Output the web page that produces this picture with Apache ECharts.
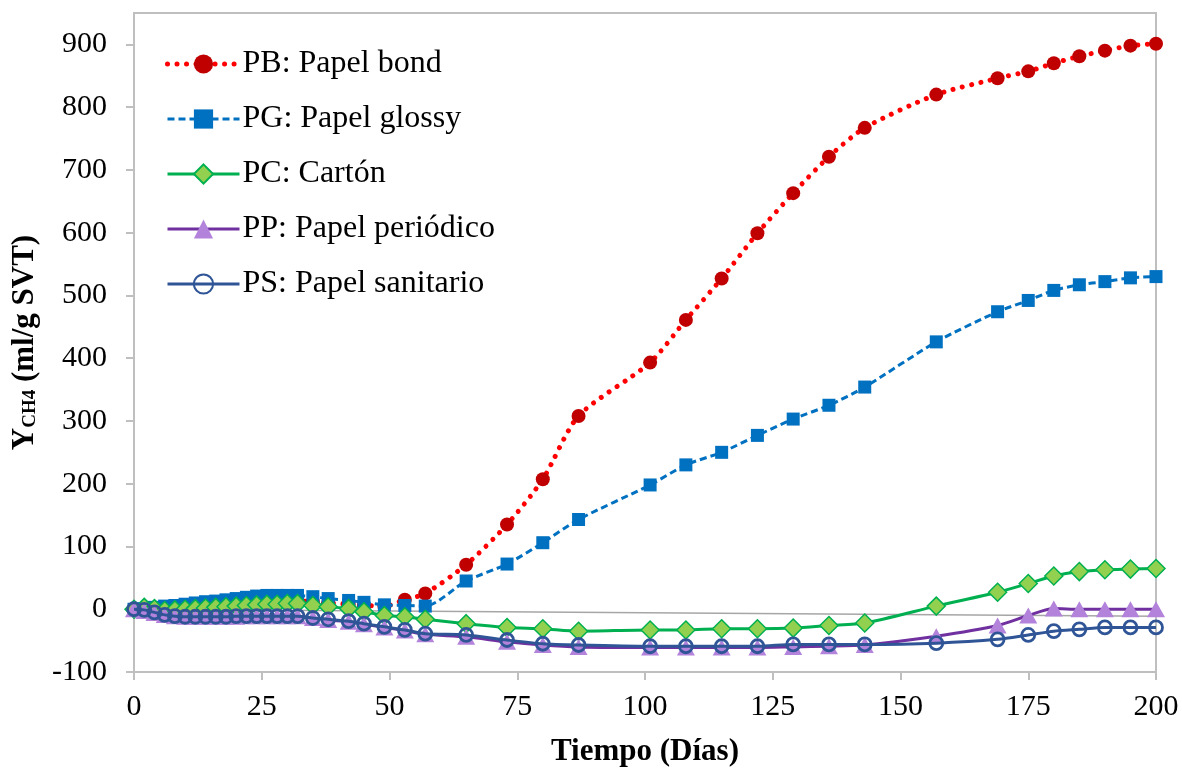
<!DOCTYPE html>
<html>
<head>
<meta charset="utf-8">
<script src="https://cdn.jsdelivr.net/npm/echarts@6/dist/echarts.min.js"></script>
<style>
  html, body { margin: 0; padding: 0; background: #fff; }
  #chart { width: 1182px; height: 769px; }
</style>
</head>
<body>
<div id="chart"></div>
<script>
// ---- data ----
const days = [0, 2, 4, 6, 8, 10, 12, 14, 16, 18, 20, 22, 24, 26, 28, 30, 32, 35, 38, 42, 45, 49, 53, 57, 65, 73, 80, 87, 101, 108, 115, 122, 129, 136, 143, 157, 169, 175, 180, 185, 190, 195, 200];
const pbValues = [0, 0, 1, 2, 3, 4, 5, 6, 7, 8, 9, 10, 11, 12, 13, 13, 13, 12, 10, 8, 6, 5, 15, 25, 71, 135, 207, 308, 393, 461, 527, 599, 663, 721, 767, 820, 846, 857, 870, 881, 890, 898, 901];
const pgValues = [0, 1, 3, 5, 6, 8, 10, 12, 13, 15, 17, 19, 21, 22, 22, 22, 22, 20, 17, 14, 11, 7, 6, 5, 45, 72, 106, 143, 198, 230, 250, 277, 303, 325, 354, 426, 474, 492, 508, 517, 522, 528, 530];
const pcValues = [0, 3, 1, -2, -1, 0, 1, 2, 3, 4, 5, 6, 7, 8, 8, 9, 9, 6, 4, 1, -4, -10, -12, -16, -23, -29, -31, -35, -33, -33, -31, -31, -30, -26, -22, 5, 27, 41, 53, 60, 63, 64, 65];
const ppValues = [0, -3, -6, -9, -11, -12, -12, -12, -12, -12, -12, -11, -11, -11, -11, -11, -11, -14, -17, -20, -24, -29, -34, -40, -44, -52, -57, -60, -61, -61, -61, -61, -60, -59, -57, -43, -26, -10, 1, 0, 0, 0, 0];
const psValues = [0, -1, -5, -9, -11, -12, -12, -12, -12, -12, -11, -11, -11, -11, -11, -11, -11, -14, -16, -19, -23, -28, -33, -39, -41, -49, -55, -57, -59, -59, -59, -59, -56, -56, -56, -54, -48, -41, -35, -32, -29, -29, -29];
const refDays = [0, 200];
const refValues = [0, -11];
const seriesNames = ['PB: Papel bond', 'PG: Papel glossy', 'PC: Cartón', 'PP: Papel periódico', 'PS: Papel sanitario'];
const xTicks = [0, 25, 50, 75, 100, 125, 150, 175, 200];
const yTicks = [-100, 0, 100, 200, 300, 400, 500, 600, 700, 800, 900];

// ---- chart ----
const FONT = "'Liberation Serif', 'Times New Roman', serif";
const pair = (xs, ys) => xs.map((x, i) => [x, ys[i]]);
const chart = echarts.init(document.getElementById('chart'), null, { renderer: 'canvas' });

const lineStyles = [
  { color: '#ff0000', width: 5, type: [0.01, 9.5], cap: 'round' },
  { color: '#0070c0', width: 3, type: [7, 4] },
  { color: '#00b050', width: 3, type: 'solid' },
  { color: '#7030a0', width: 3, type: 'solid' },
  { color: '#2f5597', width: 3, type: 'solid' }
];

const option = {
  animation: false,
  backgroundColor: '#fff',
  textStyle: { fontFamily: FONT },
  grid: {
    left: 134, right: 26, top: 13, bottom: 97,
    outerBoundsMode: 'none', containLabel: false,
    show: true, borderColor: '#bfbfbf', borderWidth: 2, backgroundColor: 'transparent'
  },
  legend: {
    data: seriesNames.map((n, i) => ({ name: n, lineStyle: lineStyles[i] })),
    orient: 'vertical',
    left: 160, top: 43,
    itemWidth: 72, itemHeight: 24, itemGap: 23,
    textStyle: { fontFamily: FONT, fontSize: 32, lineHeight: 32, color: '#000', padding: [0, 0, 0, -2] },
    selectedMode: false
  },
  xAxis: {
    type: 'value',
    min: 0, max: 200, interval: 25,
    name: 'Tiempo (Días)',
    nameLocation: 'middle',
    nameGap: 64,
    nameTextStyle: { fontFamily: FONT, fontSize: 31, fontWeight: 'bold', color: '#000' },
    axisLine: { show: true, onZero: false, lineStyle: { color: '#bfbfbf', width: 2 } },
    axisTick: { show: true, inside: false, length: 8, lineStyle: { color: '#bfbfbf', width: 2 }, customValues: xTicks },
    axisLabel: { fontFamily: FONT, fontSize: 30, color: '#000', margin: 20, customValues: xTicks },
    splitLine: { show: false }
  },
  yAxis: {
    type: 'value',
    min: -100, max: 950,
    name: '{b|Y}{s|CH4}{b| (ml/g SVT)}',
    nameLocation: 'middle',
    nameGap: 94,
    nameRotate: 90,
    nameTextStyle: {
      rich: {
        b: { fontFamily: FONT, fontSize: 31, fontWeight: 'bold', color: '#000', lineHeight: 36, verticalAlign: 'bottom' },
        s: { fontFamily: FONT, fontSize: 19, fontWeight: 'bold', color: '#000', lineHeight: 19, verticalAlign: 'bottom' }
      }
    },
    axisLine: { show: true, onZero: false, lineStyle: { color: '#bfbfbf', width: 2 } },
    axisTick: { show: true, inside: false, length: 8, lineStyle: { color: '#bfbfbf', width: 2 }, customValues: yTicks },
    axisLabel: { fontFamily: FONT, fontSize: 30, color: '#000', margin: 27, customValues: yTicks },
    splitLine: { show: false }
  },
  series: [
    {
      name: 'ref', type: 'line', data: pair(refDays, refValues),
      symbol: 'none', silent: true,
      lineStyle: { color: '#a6a6a6', width: 1.5 }, z: 1
    },
    {
      name: seriesNames[0], type: 'line', data: pair(days, pbValues), smooth: 0.25,
      symbol: 'circle', symbolSize: 14,
      itemStyle: { color: '#c00000' },
      lineStyle: lineStyles[0], z: 2
    },
    {
      name: seriesNames[1], type: 'line', data: pair(days, pgValues), smooth: 0.25,
      symbol: 'rect', symbolSize: 13,
      itemStyle: { color: '#0070c0' },
      lineStyle: lineStyles[1], z: 3
    },
    {
      name: seriesNames[2], type: 'line', data: pair(days, pcValues), smooth: 0.25,
      symbol: 'diamond', symbolSize: [18, 18],
      itemStyle: { color: '#92d050', borderColor: '#00b050', borderWidth: 1.5 },
      lineStyle: lineStyles[2], z: 4
    },
    {
      name: seriesNames[3], type: 'line', data: pair(days, ppValues), smooth: 0.25,
      symbol: 'triangle', symbolSize: [18, 16],
      itemStyle: { color: '#b383db' },
      lineStyle: lineStyles[3], z: 5
    },
    {
      name: seriesNames[4], type: 'line', data: pair(days, psValues), smooth: 0.25,
      symbol: 'circle', symbolSize: 13,
      itemStyle: { color: 'rgba(255,255,255,0)', borderColor: '#2f5597', borderWidth: 2.8 },
      lineStyle: lineStyles[4], z: 6
    }
  ]
};
chart.setOption(option);
</script>
</body>
</html>
